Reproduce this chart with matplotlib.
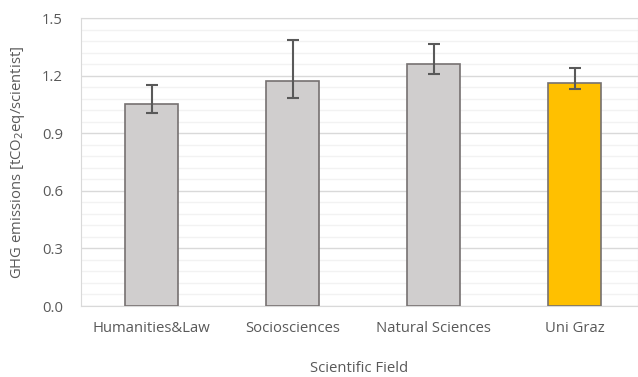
import matplotlib
matplotlib.use('Agg')
import matplotlib.pyplot as plt
import numpy as np

categories = ['Humanities&Law', 'Sociosciences', 'Natural Sciences', 'Uni Graz']
values = [1.053, 1.175, 1.262, 1.164]
err_upper = [1.154, 1.387, 1.368, 1.241]
err_lower = [1.008, 1.083, 1.211, 1.131]
bar_colors = ['#D0CECE', '#D0CECE', '#D0CECE', '#FFC000']

plt.rcParams['font.family'] = ['Open Sans', 'DejaVu Sans']
text_color = '#595959'
fs = 10.7

fig = plt.figure(figsize=(6.38, 3.77), dpi=100)
W, H = 638, 377
ax = fig.add_axes([81 / W, 1 - 306 / H, (638 - 81) / W, (306 - 18.3) / H])

x = np.arange(len(categories))
yerr = np.array([np.array(values) - np.array(err_lower),
                 np.array(err_upper) - np.array(values)])
ax.bar(x, values, width=0.37, color=bar_colors, edgecolor='#767171',
       linewidth=1.2, zorder=3)
ax.errorbar(x, values, yerr=yerr, fmt='none', ecolor='#595959',
            elinewidth=1.5, capsize=4, capthick=1.5, zorder=4)

ax.set_ylim(0, 1.5)
ax.set_xlim(-0.5, 3.45)
ax.set_yticks(np.arange(0, 1.51, 0.3))
ax.set_yticklabels(['%.1f' % v for v in np.arange(0, 1.51, 0.3)])
ax.set_yticks(np.arange(0, 1.51, 0.06), minor=True)
ax.grid(True, which='major', axis='y', color='#D9D9D9', linewidth=1, zorder=0)
ax.grid(True, which='minor', axis='y', color='#F2F2F2', linewidth=1, zorder=0)
ax.set_xticks(x)
ax.set_xticklabels(categories)
ax.tick_params(axis='both', which='both', length=0, colors=text_color,
               labelsize=fs)
ax.tick_params(axis='x', pad=11)
ax.tick_params(axis='y', pad=13)
for s in ax.spines.values():
    s.set_color('#D9D9D9')

ax.set_xlabel('Scientific Field', color=text_color, fontsize=fs, labelpad=18)
ax.set_ylabel('GHG emissions [tCO$_2$eq/scientist]', color=text_color,
              fontsize=fs, labelpad=11)

fig.savefig('out.png', dpi=100)
